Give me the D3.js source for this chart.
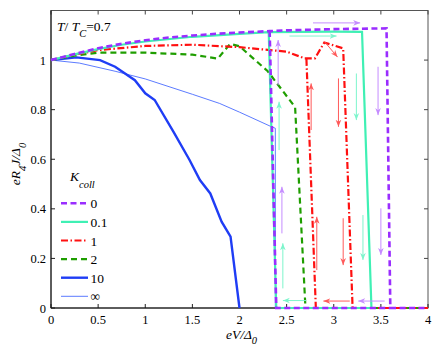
<!DOCTYPE html>
<html>
<head>
<meta charset="utf-8">
<script src="https://cdn.jsdelivr.net/npm/d3@7"></script>
<style>
  body { margin: 0; background: #fff; }
  svg { display: block; }
  svg text { font-family: "Liberation Serif", Tinos, "Times New Roman", Times, "DejaVu Serif", serif; }
</style>
</head>
<body>
<svg id="chart" width="436" height="349"></svg>
<script>
// null breaks a line into two pieces
const k0 = [[0,1],[0.25,1.025],[0.5,1.048],[0.75,1.066],[1,1.08],[1.25,1.091],[1.5,1.099],[1.75,1.106],
  [2,1.111],[2.32,1.117],[2.5,1.12],[3,1.125],[3.56,1.128],[3.6,0],[4,0],null,[2.32,1.117],[2.39,0],[3.6,0]];
const k01 = [[0,1],[0.25,1.023],[0.5,1.044],[0.75,1.062],[1,1.075],[1.5,1.094],[2,1.106],[2.31,1.113],
  [3,1.115],[3.3,1.114],[3.4,0],null,[2.31,1.113],[2.39,0],[3.4,0]];
const k1 = [[0,1],[0.25,1.022],[0.5,1.04],[1,1.057],[1.5,1.062],[2,1.052],[2.5,1.034],[2.69,1.007],
  [2.8,1.007],[2.9,1.071],[3.1,1.047],[3.2,0],[4,0],null,[2.71,1.005],[2.81,0],[3.2,0]];
const k2 = [[0,1],[0.25,1.018],[0.5,1.03],[1,1.03],[1.5,1.022],[1.77,1.006],[1.9,1.065],[2,1.056],
  [2.3,0.955],[2.59,0.81],[2.7,0],[4,0]];
const k10 = [[0,1],[0.27,1.011],[0.52,1.0],[0.68,0.973],[0.89,0.919],[1.0,0.866],[1.1,0.839],[1.3,0.71],
  [1.47,0.597],[1.58,0.516],[1.69,0.462],[1.81,0.348],[1.905,0.288],[2.0,0]];
const kInf = [[0,1],[0.3,0.988],[0.68,0.955],[1,0.924],[1.5,0.862],[1.79,0.825],[2,0.79],[2.34,0.731],
  [2.38,0.725],[2.38,0],[4,0]];

// sweep arrows: [x1, y1, x2, y2]
const arrows0 = [[2.78,1.15,3.28,1.15],[3.47,0.973,3.47,0.778],[3.5,0.402,3.5,0.214],[3.54,0.028,3.26,0.028],
  [2.45,0.301,2.45,0.489],[2.41,0.899,2.41,1.081]];
const arrows01 = [[2.53,1.097,3.03,1.097],[3.24,0.946,3.24,0.758],[3.31,0.375,3.31,0.194],[2.71,0.03,2.46,0.03],
  [2.46,0.079,2.46,0.261],[2.42,0.637,2.42,0.832]];
const arrows1 = [[2.76,0.718,2.76,0.906],[2.82,0.153,2.82,0.368],[3.05,0.926,3.05,0.731],[3.1,0.362,3.1,0.173],
  [3.17,0.028,2.89,0.028],[2.905,1.073,3.04,1.012]];

const xTicks = [0, 0.5, 1, 1.5, 2, 2.5, 3, 3.5, 4];
const yTicks = [0, 0.2, 0.4, 0.6, 0.8, 1];
const legendLabels = ['0', '0.1', '1', '2', '10', '\u221e'];

const svg = d3.select('#chart');
const x = d3.scaleLinear().domain([0, 4]).range([51, 428]);
const y = d3.scaleLinear().domain([0, 1.2]).range([308, 10.5]);

const series = [
  {data: kInf, color: '#4a6cff', width: 0.9, dash: null},
  {data: k10, color: '#1f3df5', width: 2.4, dash: null},
  {data: k2, color: '#1f9e00', width: 2.2, dash: '6,4'},
  {data: k1, color: '#ff1010', width: 2.2, dash: '7,2.5,1.5,2.5'},
  {data: k01, color: '#3ff0b4', width: 2.2, dash: null},
  {data: k0, color: '#9a2dff', width: 2.6, dash: '6,3.5'}
];

const defs = svg.append('defs');
const arrowSets = [
  {data: arrows0, color: '#c58cff', id: 'ah0'},
  {data: arrows01, color: '#7df5cc', id: 'ah01'},
  {data: arrows1, color: '#ff5a5a', id: 'ah1'}
];
arrowSets.forEach(a => {
  defs.append('marker')
    .attr('id', a.id)
    .attr('viewBox', '0 0 10 10')
    .attr('refX', 10).attr('refY', 5)
    .attr('markerWidth', 7).attr('markerHeight', 7)
    .attr('markerUnits', 'userSpaceOnUse')
    .attr('orient', 'auto')
    .append('path')
    .attr('d', 'M0,1 L10,5 L0,9 L3,5 Z')
    .attr('fill', a.color);
});

// frame
svg.append('rect')
  .attr('x', x(0)).attr('y', y(1.2))
  .attr('width', x(4) - x(0)).attr('height', y(0) - y(1.2))
  .attr('fill', 'none').attr('stroke', '#555').attr('stroke-width', 1);

// inward ticks on all four sides
const tickLen = 4;
xTicks.forEach(t => {
  svg.append('line').attr('x1', x(t)).attr('x2', x(t)).attr('y1', y(0)).attr('y2', y(0) - tickLen)
    .attr('stroke', '#222');
  svg.append('line').attr('x1', x(t)).attr('x2', x(t)).attr('y1', y(1.2)).attr('y2', y(1.2) + tickLen)
    .attr('stroke', '#444');
  svg.append('text').attr('x', x(t)).attr('y', 324).attr('text-anchor', 'middle')
    .attr('font-size', 12.5).text(t);
});
yTicks.forEach(t => {
  svg.append('line').attr('x1', x(0)).attr('x2', x(0) + tickLen).attr('y1', y(t)).attr('y2', y(t))
    .attr('stroke', '#222');
  svg.append('line').attr('x1', x(4)).attr('x2', x(4) - tickLen).attr('y1', y(t)).attr('y2', y(t))
    .attr('stroke', '#444');
  svg.append('text').attr('x', 46).attr('y', y(t) + 4.5).attr('text-anchor', 'end')
    .attr('font-size', 12.5).text(t);
});
svg.append('line').attr('x1', x(0)).attr('x2', x(0)).attr('y1', y(0)).attr('y2', y(1.2))
  .attr('stroke', '#111');
svg.append('line').attr('x1', x(0)).attr('x2', x(4)).attr('y1', y(0)).attr('y2', y(0))
  .attr('stroke', '#111');

const line = d3.line()
  .defined(d => d !== null)
  .x(d => x(d[0]))
  .y(d => y(d[1]));

const plot = svg.append('g');
series.forEach(s => {
  plot.append('path')
    .attr('d', line(s.data))
    .attr('fill', 'none')
    .attr('stroke', s.color)
    .attr('stroke-width', s.width)
    .attr('stroke-dasharray', s.dash)
    .attr('stroke-linejoin', 'miter');
});

arrowSets.forEach(a => {
  plot.selectAll(null)
    .data(a.data)
    .enter()
    .append('line')
    .attr('x1', d => x(d[0])).attr('y1', d => y(d[1]))
    .attr('x2', d => x(d[2])).attr('y2', d => y(d[3]))
    .attr('stroke', a.color)
    .attr('stroke-width', 1)
    .attr('marker-end', 'url(#' + a.id + ')');
});

// legend
const legend = svg.append('g');
const kTitle = legend.append('text').attr('x', 70).attr('y', 181).attr('font-size', 13.5).attr('font-style', 'italic');
kTitle.append('tspan').text('K');
kTitle.append('tspan').attr('font-size', 10.5).attr('dy', 7).text('coll');

const legendOrder = [5, 4, 3, 2, 1, 0];
legendLabels.forEach((lab, i) => {
  const s = series[legendOrder[i]];
  const ly = 203.3 + i * 18.6;
  legend.append('line')
    .attr('x1', 61).attr('x2', 88).attr('y1', ly).attr('y2', ly)
    .attr('stroke', s.color).attr('stroke-width', s.width)
    .attr('stroke-dasharray', s.dash);
  legend.append('text').attr('x', 90.5).attr('y', ly + 5).attr('font-size', 13.5).text(lab);
});

// temperature note
const tNote = svg.append('text').attr('x', 57).attr('y', 31).attr('font-size', 13.5);
tNote.append('tspan').attr('font-style', 'italic').text('T');
tNote.append('tspan').text('/ ');
tNote.append('tspan').attr('font-style', 'italic').text('T');
tNote.append('tspan').attr('font-style', 'italic').attr('font-size', 10.5).attr('dy', 6).text('C');
tNote.append('tspan').attr('dy', -6).text('=0.7');

// axis labels
const xl = svg.append('text').attr('x', x(2) + 2).attr('y', 339).attr('text-anchor', 'middle')
  .attr('font-size', 13.5).attr('font-style', 'italic');
xl.append('tspan').text('eV/\u0394');
xl.append('tspan').attr('font-size', 10.5).attr('dy', 5).text('0');

const yl = svg.append('text')
  .attr('transform', 'translate(20,' + 164 + ') rotate(-90)')
  .attr('text-anchor', 'middle')
  .attr('font-size', 13.5).attr('font-style', 'italic');
yl.append('tspan').text('eR');
yl.append('tspan').attr('font-size', 10.5).attr('dy', 6).text('4');
yl.append('tspan').attr('dy', -6).text('J/\u0394');
yl.append('tspan').attr('font-size', 10.5).attr('dy', 6).text('0');
</script>
</body>
</html>
